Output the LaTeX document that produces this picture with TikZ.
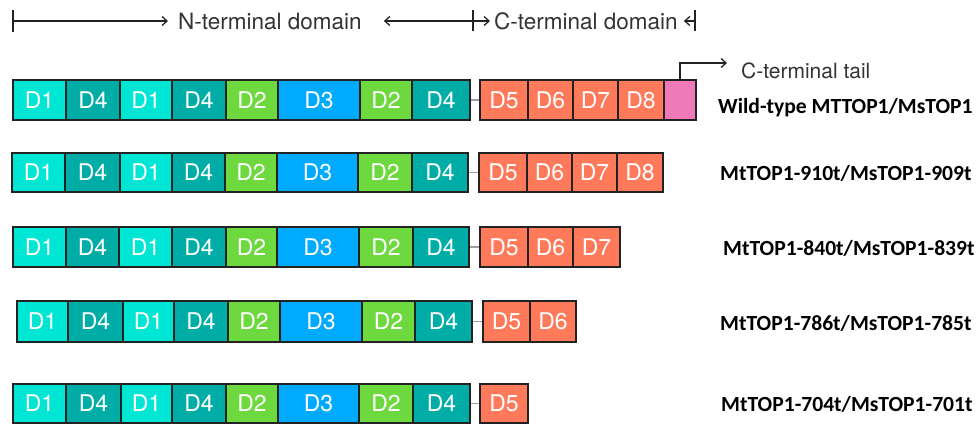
\documentclass[tikz,border=0pt]{standalone}
\usepackage{fontspec}
\setmainfont{TeX Gyre Heros}
\newfontfamily\labelfont{Carlito}
\usetikzlibrary{arrows.meta}

% domain fills
\definecolor{cOne}{HTML}{00E6D4}
\definecolor{cFour}{HTML}{00ADA6}
\definecolor{cTwo}{HTML}{6DD93E}
\definecolor{cThree}{HTML}{00AAFF}
\definecolor{cCterm}{HTML}{FF7A5B}
\definecolor{cTail}{HTML}{EE79B8}
\definecolor{ink}{HTML}{222222}
\definecolor{txt}{HTML}{333333}

% one protein: #1 name, #2 top, #3 bottom,
% #4 N-terminal boxes (x1/x2/label/fill), #5 C-terminal boxes (x1/x2/label)
\newcommand\protrow[5]{%
  \foreach \a/\b/\t/\c [count=\i] in {#4}
    \node[dom, fill=\c, minimum width={(\b-\a)*1pt}, minimum height={(#3-#2)*1pt}]
      (#1n\i) at ({(\a+\b)/2},{(#2+#3)/2}) {\t};
  \foreach \a/\b/\t [count=\i] in {#5}
    \node[dom, fill=cCterm, minimum width={(\b-\a)*1pt}, minimum height={(#3-#2)*1pt}]
      (#1c\i) at ({(\a+\b)/2},{(#2+#3)/2}) {\t};
  \draw[link] (#1n8.east) -- (#1c1.west);
}

\begin{document}
\begin{tikzpicture}[x=1pt, y=-1pt,
  dom/.style={draw=ink, line width=1.5pt, inner sep=0pt, text=white,
    font=\fontsize{23}{23}\selectfont},
  link/.style={draw=gray!75, line width=1.2pt},
  rowlabel/.style={anchor=west, inner sep=0pt, text=black,
    font=\labelfont\bfseries\fontsize{21.6}{22}\selectfont},
  headtext/.style={anchor=west, inner sep=0pt, text=txt,
    font=\fontsize{22.5}{23}\selectfont},
  guide/.style={draw=ink, line width=1.3pt},
  tip/.style={-{Straight Barb[length=5pt, width=9pt, line width=1.3pt]}}
]
\useasboundingbox (0,0) rectangle (980,425);

% header: extent of the two domains
\node[headtext] (nterm) at (178,21) {N-terminal domain};
\node[headtext] (cterm) at (494,21) {C-terminal domain};
\coordinate (barL) at (13,21);
\coordinate (barM) at (473,21);
\coordinate (barR) at (695,21);
\draw[guide] ([yshift=-11pt]barL) -- ([yshift=11pt]barL);
\draw[guide] ([yshift=-10pt]barM) -- ([yshift=11pt]barM);
\draw[guide] ([yshift=-10pt]barR) -- ([yshift=11pt]barR);
\draw[guide, tip] (barL) -- ([xshift=-10pt]nterm.west);
\draw[guide, tip] (barM) -- ([xshift=22pt]nterm.east);
\draw[guide, tip] (barM) -- ([xshift=-4pt]cterm.west);
\draw[guide, tip] (barR) -- ([xshift=6pt]cterm.east);

% wild type
\protrow{a}{80}{120}
  {13/66/D1/cOne, 66/120/D4/cFour, 120/172/D1/cOne, 172/226/D4/cFour,
   226/278/D2/cTwo, 278/360/D3/cThree, 360/412/D2/cTwo, 412/470/D4/cFour}
  {480/528/D5, 528/573/D6, 573/618/D7, 618/664/D8}
\node[dom, fill=cTail, minimum width=32pt, minimum height=40pt] (tail) at (680,100) {};
\coordinate (tailend) at (727,63);
\draw[guide, tip] (tail.north) |- (tailend);
\node[headtext, font=\fontsize{21}{21}\selectfont] (tailtext) at (741,71) {C-terminal tail};
\node[rowlabel] (alab) at (718,108) {Wild-type MTTOP1/MsTOP1};

% truncations
\protrow{b}{153}{192}
  {12/65/D1/cOne, 65/120/D4/cFour, 120/172/D1/cOne, 172/225/D4/cFour,
   225/277/D2/cTwo, 277/358/D3/cThree, 358/412/D2/cTwo, 412/468/D4/cFour}
  {479/527/D5, 527/572/D6, 572/617/D7, 617/663/D8}
\node[rowlabel] (blab) at (720,173) {MtTOP1-910t/MsTOP1-909t};

\protrow{c}{227}{267}
  {13/66/D1/cOne, 66/119/D4/cFour, 119/172/D1/cOne, 172/226/D4/cFour,
   226/277/D2/cTwo, 277/359/D3/cThree, 359/413/D2/cTwo, 413/469/D4/cFour}
  {480/528/D5, 528/573/D6, 573/620/D7}
\node[rowlabel] (clab) at (723,248) {MtTOP1-840t/MsTOP1-839t};

\protrow{d}{301}{342}
  {17/68/D1/cOne, 68/123/D4/cFour, 123/174/D1/cOne, 174/228/D4/cFour,
   228/280/D2/cTwo, 280/362/D3/cThree, 362/415/D2/cTwo, 415/472/D4/cFour}
  {483/530/D5, 530/576/D6}
\node[rowlabel] (dlab) at (720,323) {MtTOP1-786t/MsTOP1-785t};

\protrow{e}{384}{423}
  {13/66/D1/cOne, 66/121/D4/cFour, 121/172/D1/cOne, 172/226/D4/cFour,
   226/278/D2/cTwo, 278/359/D3/cThree, 359/413/D2/cTwo, 413/470/D4/cFour}
  {480/528/D5}
\node[rowlabel] (elab) at (721,404) {MtTOP1-704t/MsTOP1-701t};
\end{tikzpicture}
\end{document}
